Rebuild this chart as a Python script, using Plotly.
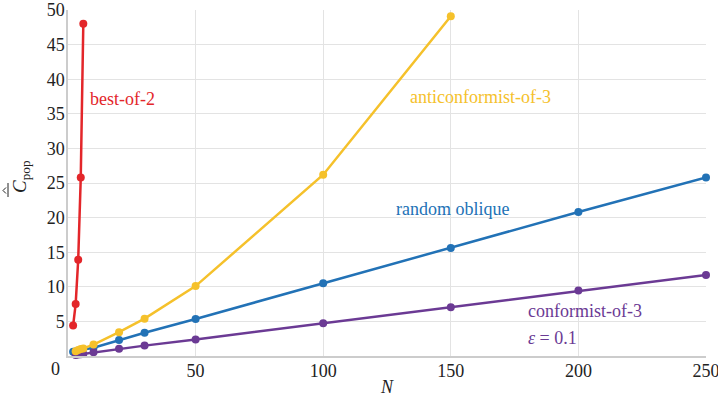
import plotly.graph_objects as go

# ---- data ----
best_N = [2, 3, 4, 5, 6]
best_C = [4.4, 7.5, 13.9, 25.8, 48.0]

anti_N = [3, 4, 5, 6, 10, 20, 30, 50, 100, 150]
anti_C = [0.7, 0.85, 1.0, 1.1, 1.65, 3.45, 5.4, 10.1, 26.2, 49.1]

rand_N = [2, 3, 4, 5, 10, 20, 30, 50, 100, 150, 200, 250]
rand_C = [0.6, 0.65, 0.75, 0.85, 1.2, 2.3, 3.35, 5.35, 10.5, 15.6, 20.8, 25.8]

conf_N = [3, 4, 5, 6, 10, 20, 30, 50, 100, 150, 200, 250]
conf_C = [0.15, 0.2, 0.25, 0.3, 0.55, 1.05, 1.5, 2.4, 4.75, 7.05, 9.45, 11.7]

x_ticks = [50, 100, 150, 200, 250]
y_ticks = [5, 10, 15, 20, 25, 30, 35, 40, 45, 50]

RED = "#e3262a"
YEL = "#f5c12b"
BLU = "#2272b6"
PUR = "#6b3a94"
FONT = "Liberation Serif"
INK = "#222222"

W, H = 718, 400
L, R, T, B = 68, 12, 10, 44
PW, PH = W - L - R, H - T - B


def px(xp):  # page pixel -> paper x
    return (xp - L) / PW


def py(yp):  # page pixel -> paper y
    return (H - B - yp) / PH


fig = go.Figure()

series = [
    (rand_N, rand_C, BLU),
    (conf_N, conf_C, PUR),
    (anti_N, anti_C, YEL),
    (best_N, best_C, RED),
]
for xs, ys, col in series:
    fig.add_trace(go.Scatter(
        x=xs, y=ys, mode="lines+markers",
        line=dict(color=col, width=2.5),
        marker=dict(color=col, size=8),
        cliponaxis=False, showlegend=False, hoverinfo="skip",
    ))

labels = [
    ("best-of-2", 21.2, 37.2, RED),
    ("anticonformist-of-3", 161.6, 37.4, YEL),
    ("random oblique", 150.6, 21.3, BLU),
    ("conformist-of-3", 202.7, 6.5, PUR),
    ("<i>ε</i> = 0.1", 190.0, 2.6, PUR),
]
for txt, x, y, col in labels:
    fig.add_annotation(x=x, y=y, text=txt, showarrow=False,
                       font=dict(family=FONT, size=18, color=col))

# corner "0"
fig.add_annotation(xref="paper", yref="paper", x=px(55), y=py(369),
                   text="0", showarrow=False, xanchor="center", yanchor="middle",
                   font=dict(family=FONT, size=18, color=INK))

# y-axis title: C with bar and hat, subscript pop (rotated)
fig.add_annotation(xref="paper", yref="paper", x=px(21), y=py(177),
                   text="<i>C</i><sub>pop</sub>", textangle=-90, showarrow=False,
                   xanchor="center", yanchor="middle",
                   font=dict(family=FONT, size=19, color=INK))
# bar over C
fig.add_shape(type="line", xref="paper", yref="paper",
              x0=px(8), x1=px(8), y0=py(183), y1=py(197),
              line=dict(color=INK, width=1))
# hat over bar
fig.add_shape(type="path", xref="paper", yref="paper",
              path="M {a},{b} L {c},{d} L {a},{e}".format(
                  a=px(6), b=py(187.5), c=px(3), d=py(190.5), e=py(193.5)),
              line=dict(color=INK, width=1))

fig.update_layout(
    width=W, height=H,
    margin=dict(l=L, r=R, t=T, b=B, autoexpand=False),
    paper_bgcolor="white", plot_bgcolor="white",
    font=dict(family=FONT, size=18, color=INK),
    xaxis=dict(range=[0, 250], tickvals=x_ticks, showgrid=True,
               gridcolor="#e3e3e3", gridwidth=1, zeroline=False,
               showline=True, linecolor="#cccccc", linewidth=1.5,
               ticks="", ticklen=0, automargin=False,
               ticklabeloverflow="allow", ticklabelstandoff=-2,
               tickfont=dict(family=FONT, size=18, color=INK),
               title=dict(text="<i>N</i>", font=dict(family=FONT, size=18), standoff=0)),
    yaxis=dict(range=[0, 50], tickvals=y_ticks, showgrid=True,
               gridcolor="#e3e3e3", gridwidth=1, zeroline=False,
               showline=True, linecolor="#cccccc", linewidth=1.5,
               ticks="", ticklen=0, automargin=False,
               ticklabeloverflow="allow", ticklabelstandoff=-2,
               tickfont=dict(family=FONT, size=18, color=INK)),
)

fig.write_html("out.html", config={"displayModeBar": False},
               post_script="document.body.style.margin='0';")
